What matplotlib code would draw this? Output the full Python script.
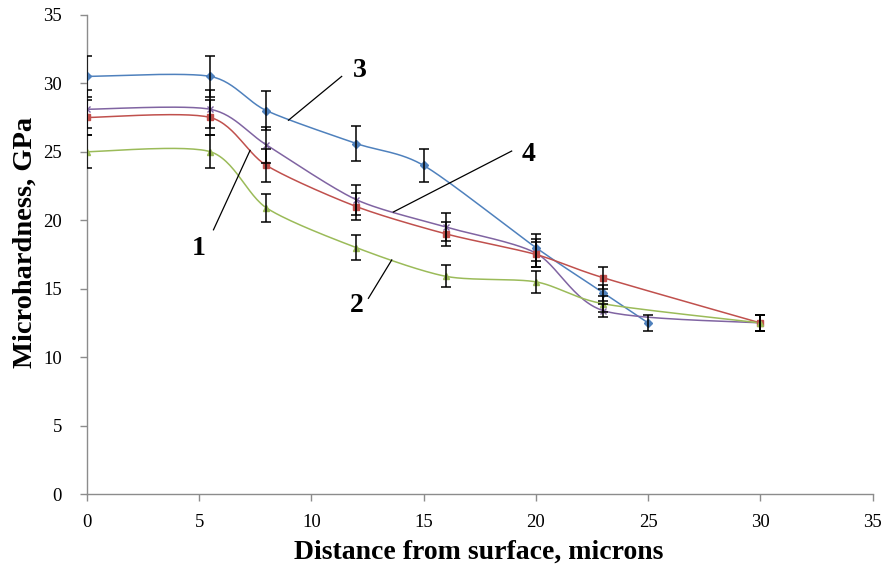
import numpy as np
import matplotlib
matplotlib.use("Agg")
import matplotlib.pyplot as plt

# depth (microns) and microhardness (GPa) per curve
x_1 = [0, 5.5, 8, 12, 16, 20, 23, 30]
y_1 = [27.5, 27.5, 24.0, 21.0, 19.0, 17.5, 15.8, 12.5]
e_1 = [1.3, 1.3, 1.2, 1.0, 0.9, 0.9, 0.8, 0.6]

x_2 = [0, 5.5, 8, 12, 16, 20, 23, 30]
y_2 = [25.0, 25.0, 20.9, 18.0, 15.9, 15.5, 13.9, 12.5]
e_2 = [1.2, 1.2, 1.0, 0.9, 0.8, 0.8, 0.6, 0.6]

x_3 = [0, 5.5, 8, 12, 15, 20, 23, 25]
y_3 = [30.5, 30.5, 28.0, 25.6, 24.0, 18.0, 14.7, 12.5]
e_3 = [1.5, 1.5, 1.4, 1.3, 1.2, 1.0, 0.6, 0.6]

x_4 = [0, 5.5, 8, 12, 16, 20, 23, 30]
y_4 = [28.1, 28.1, 25.5, 21.5, 19.5, 17.6, 13.4, 12.5]
e_4 = [1.4, 1.4, 1.3, 1.1, 1.0, 1.0, 0.5, 0.6]

colors = {"1": "#C0504D", "2": "#9BBB59", "3": "#4F81BD", "4": "#8064A2"}
markers = {"1": "s", "2": "^", "3": "D", "4": "x"}


def smooth(xs, ys, n=30, k=0.4):
    # Excel-like smoothed line: cardinal spline through the points
    p = np.column_stack([xs, ys]).astype(float)
    p = np.vstack([p[0], p, p[-1]])
    out = []
    for i in range(1, len(p) - 2):
        p0, p1, p2, p3 = p[i - 1], p[i], p[i + 1], p[i + 2]
        t = np.linspace(0, 1, n)[:, None]
        m1 = (p2 - p0) * k
        m2 = (p3 - p1) * k
        h00 = 2 * t**3 - 3 * t**2 + 1
        h10 = t**3 - 2 * t**2 + t
        h01 = -2 * t**3 + 3 * t**2
        h11 = t**3 - t**2
        out.append(h00 * p1 + h10 * m1 + h01 * p2 + h11 * m2)
    c = np.vstack(out)
    return c[:, 0], c[:, 1]


plt.rcParams["font.family"] = ["Liberation Serif", "DejaVu Serif"]
fig = plt.figure(figsize=(8.86, 5.68), dpi=100)
ax = fig.add_axes([0.098, 0.130, 0.887, 0.844])

series = [("3", x_3, y_3, e_3), ("4", x_4, y_4, e_4),
          ("1", x_1, y_1, e_1), ("2", x_2, y_2, e_2)]
for name, xs, ys, es in series:
    sx, sy = smooth(xs, ys)
    ax.plot(sx, sy, color=colors[name], lw=1.1, zorder=3)
    ax.plot(xs, ys, ls="none", marker=markers[name], ms=4,
            color=colors[name], mec=colors[name], zorder=4)
    ax.errorbar(xs, ys, yerr=es, fmt="none", ecolor="black",
                elinewidth=1.1, capsize=3.5, capthick=1.1, zorder=5)

# curve labels with leader lines
labels = [("3", 12.17, 30.9, (11.35, 30.5), (8.98, 27.3)),
          ("1", 4.97, 17.95, (5.64, 19.3), (7.27, 25.1)),
          ("4", 19.66, 24.8, (18.92, 25.05), (13.65, 20.6)),
          ("2", 12.02, 13.8, (12.54, 14.3), (13.58, 17.1))]
for txt, tx, ty, a, b in labels:
    ax.plot([a[0], b[0]], [a[1], b[1]], color="black", lw=0.9, zorder=6)
    ax.text(tx, ty, txt, fontsize=20, fontweight="bold",
            ha="center", va="center", zorder=7)

ax.set_xlim(0, 35)
ax.set_ylim(0, 35)
ax.set_xticks(range(0, 36, 5))
ax.set_yticks(range(0, 36, 5))
for s in ["top", "right"]:
    ax.spines[s].set_visible(False)
for s in ["left", "bottom"]:
    ax.spines[s].set_color("#8c8c8c")
    ax.spines[s].set_linewidth(1.0)
ax.tick_params(colors="#8c8c8c", labelcolor="black", labelsize=13.5,
               length=5, width=1.0, direction="out")
ax.tick_params(axis="y", pad=13)
ax.tick_params(axis="x", pad=9)
ax.set_xlabel("Distance from surface, microns", fontsize=20,
              fontweight="bold")
ax.set_ylabel("Microhardness, GPa", fontsize=20.5, fontweight="bold")
ax.xaxis.label.set_va("center")
ax.xaxis.set_label_coords(0.499, -0.121)
ax.yaxis.label.set_va("center")
ax.yaxis.set_label_coords(-0.079, 0.526)

fig.savefig("out.png", dpi=100)
